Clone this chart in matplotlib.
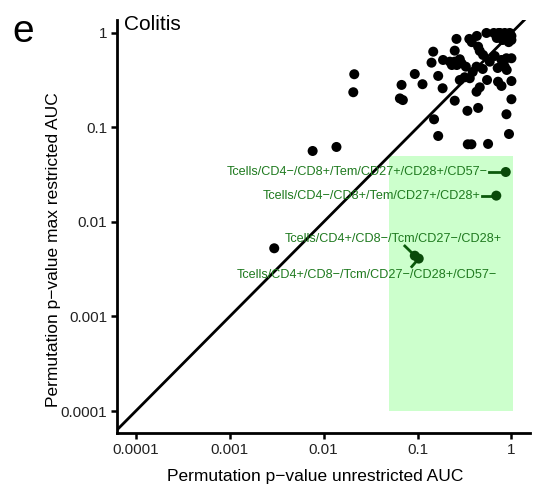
import numpy as np
import matplotlib
matplotlib.use("Agg")
import matplotlib.pyplot as plt
from matplotlib.patches import Rectangle

# permutation p-values (unrestricted AUC, max restricted AUC)
p_unrestricted = [
    0.26, 0.356, 0.378, 0.428, 0.542, 0.649, 0.752, 0.849, 0.959, 1.0,
    0.698, 0.807, 0.935, 1.0, 0.733,
    0.147, 0.249, 0.442, 0.46, 0.499, 0.664,
    0.141, 0.187, 0.221, 0.249, 0.282, 0.294, 0.262, 0.232, 0.327, 0.425,
    0.495, 0.587, 0.784, 0.885, 1.0, 0.849, 0.891, 0.714, 0.387,
    0.0935, 0.166, 0.282, 0.318, 0.36, 0.0676, 0.113, 0.185, 0.55, 0.46,
    0.425, 0.784, 1.0, 0.72,
    0.0649, 0.0698, 0.249, 0.442, 0.34, 1.0, 0.15, 0.885, 0.166, 0.942,
    0.343, 0.375, 0.564,
    0.0212, 0.0207, 0.00764, 0.0137, 0.00298,
]
p_restricted = [
    0.865, 0.865, 0.80, 0.93, 1.0, 1.0, 1.0, 1.0, 1.0, 0.93,
    0.885, 0.843, 0.80, 0.843, 1.0,
    0.634, 0.65, 0.716, 0.645, 0.585, 0.571,
    0.485, 0.518, 0.497, 0.497, 0.527, 0.478, 0.458, 0.458, 0.44, 0.44,
    0.416, 0.497, 0.518, 0.54, 0.54, 0.44, 0.406, 0.426, 0.387,
    0.368, 0.351, 0.318, 0.34, 0.332, 0.282, 0.287, 0.26, 0.318, 0.266,
    0.239, 0.275, 0.31, 0.305,
    0.203, 0.195, 0.192, 0.161, 0.15, 0.199, 0.122, 0.138, 0.0813, 0.0853,
    0.0664, 0.0664, 0.067,
    0.366, 0.236, 0.0564, 0.0622, 0.00527,
]

# highlighted populations
hl_names = [
    "Tcells/CD4\u2212/CD8+/Tem/CD27+/CD28+/CD57\u2212",
    "Tcells/CD4\u2212/CD8+/Tem/CD27+/CD28+",
    "Tcells/CD4+/CD8\u2212/Tcm/CD27\u2212/CD28+",
    "Tcells/CD4+/CD8\u2212/Tcm/CD27\u2212/CD28+/CD57\u2212",
]
hl_x = [0.87, 0.69, 0.0935, 0.103]
hl_y = [0.0338, 0.019, 0.0044, 0.0041]
# label anchor positions (repelled) and alignment
lab_x = [0.56, 0.471, 0.0546, 0.0292]
lab_y = [0.0338, 0.019, 0.0066, 0.00275]
lab_ha = ["right", "right", "center", "center"]
seg_x = [0.58, 0.49, 0.0733, 0.0869]
seg_y = [0.0338, 0.019, 0.00557, 0.00337]

# significance region
region_x = (0.05, 1.05)
region_y = (0.0001, 0.05)

ticks = [0.0001, 0.001, 0.01, 0.1, 1]
tick_labels = ["0.0001", "0.001", "0.01", "0.1", "1"]

plt.rcParams["font.family"] = ["Liberation Sans", "DejaVu Sans"]

fig = plt.figure(figsize=(5.4, 4.86), dpi=100)
ax = fig.add_axes([0.2167, 0.109, 0.7643, 0.85])

xlim = (10 ** -4.2, 10 ** 0.195)
ylim = (10 ** -4.233, 10 ** 0.138)
ax.set_xscale("log")
ax.set_yscale("log")
ax.set_xlim(*xlim)
ax.set_ylim(*ylim)

ax.add_patch(Rectangle((region_x[0], region_y[0]), region_x[1] - region_x[0],
                       region_y[1] - region_y[0], facecolor="#ccffcc",
                       edgecolor="none", zorder=0))

ax.plot([1e-5, 10], [1e-5, 10], color="black", linewidth=2.0, zorder=2)

ax.scatter(p_unrestricted, p_restricted, s=52, color="black",
           edgecolors="none", zorder=3)

for i in range(len(hl_names)):
    ax.plot([seg_x[i], hl_x[i]], [seg_y[i], hl_y[i]], color="#0b5a0b",
            linewidth=2.0, zorder=3)
    ax.text(lab_x[i], lab_y[i], hl_names[i], color="#1f7a1f", fontsize=9.1,
            ha=lab_ha[i], va="center", zorder=4)
ax.scatter(hl_x, hl_y, s=52, color="#0a4a0a", edgecolors="none", zorder=4)

ax.set_xticks(ticks)
ax.set_xticklabels(tick_labels)
ax.set_yticks(ticks)
ax.set_yticklabels(tick_labels)
ax.minorticks_off()
ax.tick_params(direction="out", length=4, width=1.8, labelsize=11,
               colors="black", labelcolor="#222222", pad=3)

for side in ("top", "right"):
    ax.spines[side].set_visible(False)
for side in ("left", "bottom"):
    ax.spines[side].set_linewidth(2.0)

ax.set_xlabel("Permutation p\u2212value unrestricted AUC", fontsize=12.5)
ax.set_ylabel("Permutation p\u2212value max restricted AUC", fontsize=12.5)
ax.xaxis.set_label_coords(0.48, -0.105)
ax.xaxis.label.set_va("center")
ax.yaxis.set_label_coords(-0.155, 0.443)
ax.yaxis.label.set_va("center")

ax.text(0.018, 0.99, "Colitis", transform=ax.transAxes, fontsize=15,
        ha="left", va="center")
fig.text(0.022, 0.934, "e", fontsize=28, ha="left", va="center")

fig.savefig("out.png", dpi=100)
